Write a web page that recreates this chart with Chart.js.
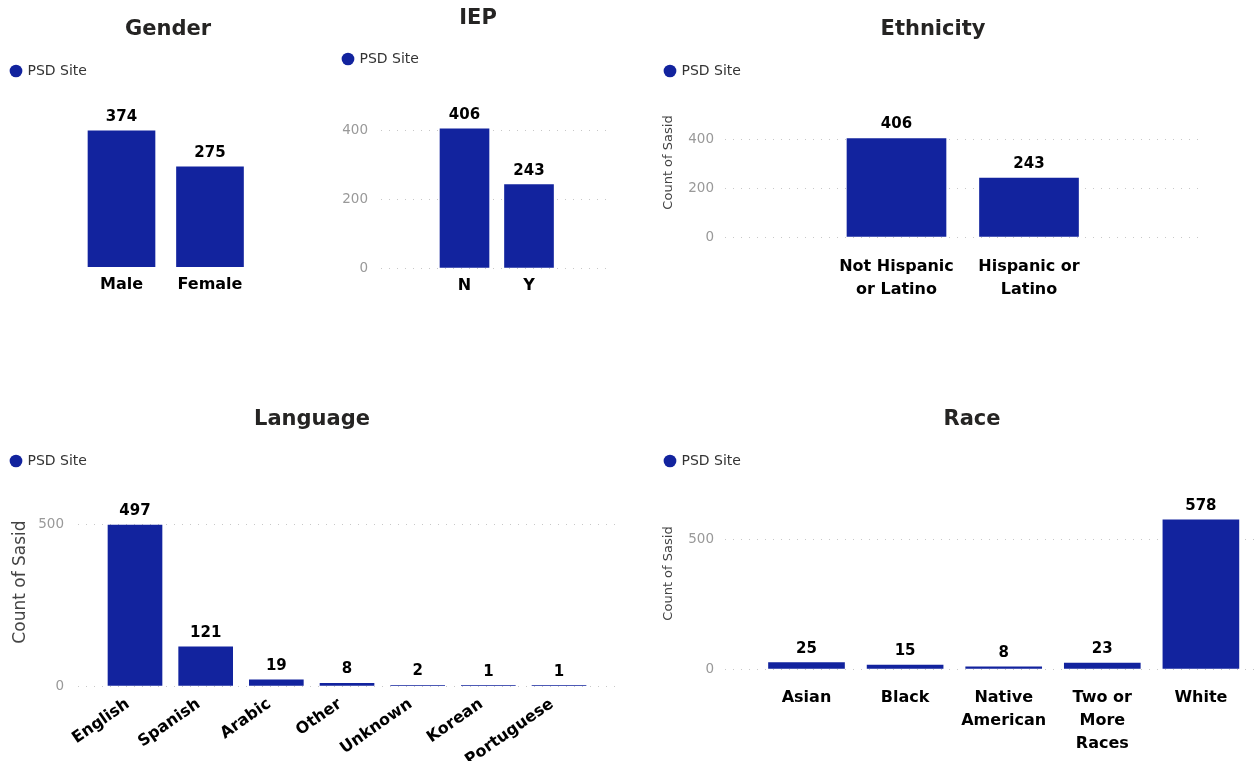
<!DOCTYPE html>
<html>
<head>
<meta charset="utf-8">
<script src="https://cdn.jsdelivr.net/npm/chart.js@4.4.1/dist/chart.umd.min.js"></script>
<style>
  html, body { margin: 0; padding: 0; background: #fff; overflow: hidden; width: 1255px; height: 761px; }
  canvas { position: absolute; }
</style>
</head>
<body>
<canvas id="gender"></canvas>
<canvas id="iep"></canvas>
<canvas id="ethnicity"></canvas>
<canvas id="language"></canvas>
<canvas id="race"></canvas>
<script>
// Series
const seriesName = 'PSD Site';
const barColor = '#12239E';

// Gender
const genderLabels = ['Male', 'Female'];
const genderValues = [374, 275];

// IEP
const iepLabels = ['N', 'Y'];
const iepValues = [406, 243];
const iepTicks = [0, 200, 400];

// Ethnicity
const ethnicityLabels = [['Not Hispanic', 'or Latino'], ['Hispanic or', 'Latino']];
const ethnicityValues = [406, 243];
const ethnicityTicks = [0, 200, 400];

// Language
const languageLabels = ['English', 'Spanish', 'Arabic', 'Other', 'Unknown', 'Korean', 'Portuguese'];
const languageValues = [497, 121, 19, 8, 2, 1, 1];
const languageTicks = [0, 500];

// Race
const raceLabels = ['Asian', 'Black', ['Native', 'American'], ['Two or', 'More', 'Races'], 'White'];
const raceValues = [25, 15, 8, 23, 578];
const raceTicks = [0, 500];

Chart.defaults.font.family = "'DejaVu Sans', sans-serif";
Chart.defaults.animation = false;

/*
    Draw the value above every bar
*/
const valueLabels = {
    id: 'valueLabels',
    afterDatasetsDraw(chart) {
        const ctx = chart.ctx;
        const meta = chart.getDatasetMeta(0);
        const data = chart.data.datasets[0].data;
        ctx.save();
        ctx.font = "bold 15px 'DejaVu Sans'";
        ctx.fillStyle = '#000';
        ctx.textAlign = 'center';
        ctx.textBaseline = 'alphabetic';
        meta.data.forEach((bar, i) => {
            ctx.fillText(String(data[i].y), bar.x, bar.y - 10);
        });
        ctx.restore();
    }
};

/*
    Build one chart. Box = canvas placement, the rest is axis layout.
*/
function makeChart(id, o) {
    const canvas = document.getElementById(id);
    canvas.width = o.box.w;
    canvas.height = o.box.h;
    canvas.style.left = o.box.x + 'px';
    canvas.style.top = o.box.y + 'px';
    canvas.style.width = o.box.w + 'px';
    canvas.style.height = o.box.h + 'px';

    const labels = o.labels;
    const points = o.values.map((v, i) => ({ x: i, y: v }));
    const yTicks = o.yTicks || [];

    const legendPad = 11.5;
    const titleLine = 21 * 1.2;
    const titleTop = o.titleY + 2 - titleLine / 2;
    const legendTop = o.legendY - 7 - legendPad;

    let scales = {
        x: {
            type: 'linear',
            offset: false,
            min: o.xMin,
            max: o.xMax,
            grid: { display: false, drawTicks: false },
            border: { display: false },
            ticks: {
                stepSize: 1,
                autoSkip: false,
                includeBounds: false,
                minRotation: o.rotation || 0,
                maxRotation: o.rotation || 0,
                padding: o.xPad,
                labelOffset: o.xShift || 0,
                color: '#000',
                font: { size: 16, weight: 'bold', lineHeight: 1.45 },
                callback: v => (Number.isInteger(v) && labels[v] !== undefined) ? labels[v] : ''
            },
            afterFit: s => { s.height = o.xHeight; }
        },
        y: {
            display: o.yWidth > 0,
            min: 0,
            max: o.yMax,
            grid: { color: '#c8c8c8', lineWidth: 1, drawTicks: false },
            border: { display: false, dash: [1, 7] },
            ticks: {
                padding: o.yPad,
                color: '#999',
                font: { size: 13.5 }
            },
            afterBuildTicks: s => { s.ticks = yTicks.map(v => ({ value: v })); },
            title: {
                display: !!o.yTitle,
                text: 'Count of Sasid',
                color: '#444',
                font: { size: o.yTitleSize || 13 },
                padding: { top: o.yTitlePad || 0, bottom: 0 }
            },
            afterFit: s => { s.width = o.yWidth; }
        }
    };

    if (o.rightWidth) {
        scales.y2 = {
            position: 'right',
            display: true,
            grid: { display: false },
            border: { display: false },
            ticks: { display: false },
            afterFit: s => { s.width = o.rightWidth; }
        };
    }

    return new Chart(canvas, {
        type: 'bar',
        data: {
            datasets: [{
                label: seriesName,
                data: points,
                backgroundColor: barColor,
                borderWidth: 0,
                barThickness: o.barWidth
            }]
        },
        options: {
            responsive: false,
            events: [],
            layout: { padding: 0 },
            scales: scales,
            plugins: {
                title: {
                    display: true,
                    text: o.title,
                    color: '#252423',
                    font: { size: 21, weight: 'bold', lineHeight: 1.2 },
                    padding: { top: titleTop, bottom: legendTop - titleTop - titleLine }
                },
                legend: {
                    display: true,
                    position: 'top',
                    align: 'start',
                    labels: {
                        usePointStyle: true,
                        pointStyle: 'circle',
                        boxWidth: 9,
                        boxHeight: 9,
                        padding: legendPad,
                        color: '#333',
                        font: { size: 14 }
                    }
                },
                tooltip: { enabled: false }
            }
        },
        plugins: [valueLabels]
    });
}

makeChart('gender', {
    box: { x: 0, y: 0, w: 336, h: 310 },
    title: 'Gender', titleY: 28, legendY: 71,
    labels: genderLabels, values: genderValues,
    xMin: -1.373, xMax: 2.424, xPad: 6, xHeight: 43,
    yWidth: 0, yMax: 492, yPad: 0,
    barWidth: 67
});

makeChart('iep', {
    box: { x: 332, y: 0, w: 292, h: 310 },
    title: 'IEP', titleY: 17, legendY: 59,
    labels: iepLabels, values: iepValues,
    xMin: -1.2946, xMax: 2.2248, xPad: 6, xHeight: 42,
    yWidth: 49, yMax: 560, yTicks: iepTicks, yPad: 13,
    rightWidth: 16,
    barWidth: 49
});

makeChart('ethnicity', {
    box: { x: 654, y: 0, w: 558, h: 310 },
    title: 'Ethnicity', titleY: 28, legendY: 71,
    labels: ethnicityLabels, values: ethnicityValues,
    xMin: -1.2943, xMax: 2.3283, xPad: 18, xHeight: 73,
    yWidth: 71, yMax: 614, yTicks: ethnicityTicks, yPad: 11,
    yTitle: true, yTitleSize: 13, yTitlePad: 7,
    rightWidth: 7,
    barWidth: 99
});

makeChart('language', {
    box: { x: 0, y: 390, w: 624, h: 371 },
    title: 'Language', titleY: 28, legendY: 71,
    labels: languageLabels, values: languageValues,
    xMin: -0.8066, xMax: 6.863, xPad: 7, xShift: -7, xHeight: 75, rotation: 35,
    yWidth: 78, yMax: 642, yTicks: languageTicks, yPad: 14,
    yTitle: true, yTitleSize: 17, yTitlePad: 10,
    rightWidth: 4,
    barWidth: 54
});

makeChart('race', {
    box: { x: 654, y: 390, w: 636, h: 371 },
    title: 'Race', titleY: 28, legendY: 71,
    labels: raceLabels, values: raceValues,
    xMin: -0.8266, xMax: 4.5487, xPad: 17, xHeight: 92,
    yWidth: 71, yMax: 740, yTicks: raceTicks, yPad: 11,
    yTitle: true, yTitleSize: 13, yTitlePad: 7,
    rightWidth: 35,
    barWidth: 76
});
</script>
</body>
</html>
